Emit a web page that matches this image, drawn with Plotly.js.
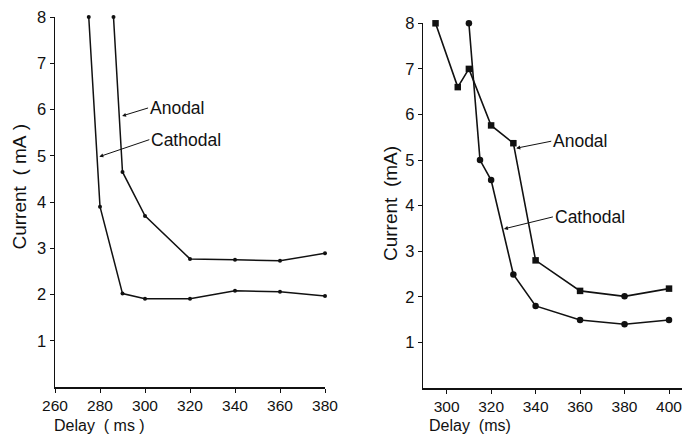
<!DOCTYPE html>
<html>
<head>
<meta charset="utf-8">
<script src="https://cdn.plot.ly/plotly-3.0.1.min.js"></script>
<style>html,body{margin:0;padding:0;background:#fff;}#chart{width:686px;height:435px;}</style>
</head>
<body>
<div id="chart"></div>
<script>
// ---- Left panel data ----
const leftAnodalX = [286, 290, 300, 320, 340, 360, 380];
const leftAnodalY = [8, 4.65, 3.7, 2.77, 2.75, 2.73, 2.89];
const leftCathodalX = [275, 280, 290, 300, 320, 340, 360, 380];
const leftCathodalY = [8, 3.9, 2.02, 1.91, 1.91, 2.08, 2.06, 1.97];

// ---- Right panel data ----
const rightAnodalX = [295, 305, 310, 320, 330, 340, 360, 380, 400];
const rightAnodalY = [8, 6.6, 7.0, 5.76, 5.37, 2.8, 2.13, 2.01, 2.18];
const rightCathodalX = [310, 315, 320, 330, 340, 360, 380, 400];
const rightCathodalY = [8, 5.0, 4.56, 2.49, 1.8, 1.49, 1.4, 1.49];

// ---- Tick labels ----
const leftXTicks = [260, 280, 300, 320, 340, 360, 380];
const rightXTicks = [300, 320, 340, 360, 380, 400];
const yTicks = [1, 2, 3, 4, 5, 6, 7, 8];

const ink = '#111';
const fontFam = '"Liberation Sans", Arial, sans-serif';
const W = 686, H = 435;

const traces = [
  {x: leftAnodalX, y: leftAnodalY, xaxis: 'x', yaxis: 'y', mode: 'lines+markers', name: 'Anodal',
   line: {color: ink, width: 1.5}, marker: {color: ink, size: 4}, cliponaxis: false},
  {x: leftCathodalX, y: leftCathodalY, xaxis: 'x', yaxis: 'y', mode: 'lines+markers', name: 'Cathodal',
   line: {color: ink, width: 1.5}, marker: {color: ink, size: 4}, cliponaxis: false},
  {x: rightAnodalX, y: rightAnodalY, xaxis: 'x2', yaxis: 'y2', mode: 'lines+markers', name: 'Anodal',
   line: {color: ink, width: 1.6},
   marker: {color: ink, size: 6.5, symbol: rightAnodalX.map(v => v === 380 ? 'circle' : 'square')}, cliponaxis: false},
  {x: rightCathodalX, y: rightCathodalY, xaxis: 'x2', yaxis: 'y2', mode: 'lines+markers', name: 'Cathodal',
   line: {color: ink, width: 1.6}, marker: {color: ink, size: 6.5, symbol: 'circle'}, cliponaxis: false}
];

const tickFont = {size: 15.5, color: ink, family: fontFam};

function xAxis(domain, range, ticks, anchor) {
  return {domain: domain, range: range, anchor: anchor, showline: true, linecolor: ink, linewidth: 1.5,
    ticks: 'outside', ticklen: 4, tickwidth: 1, tickcolor: ink, tickvals: ticks, showgrid: false,
    zeroline: false, tickfont: tickFont, fixedrange: true};
}
function yAxis(domain, anchor) {
  return {domain: domain, range: [0, 8], anchor: anchor, showline: true, linecolor: ink, linewidth: 1.5,
    ticks: 'outside', ticklen: 4, tickwidth: 1, tickcolor: ink, tickvals: yTicks, showgrid: false,
    zeroline: false, tickfont: {size: 16.5, color: ink, family: fontFam}, fixedrange: true};
}

const txtFont = {size: 17.5, color: ink, family: fontFam};
const titleFont = {size: 19, color: ink, family: fontFam};
const xTitleFont = {size: 16, color: ink, family: fontFam};
const nb = '\u00a0';

function arrowNote(text, x, y, xr, yr, ax, ay) {
  return {text: text, x: x, y: y, xref: xr, yref: yr, ax: ax, ay: ay, axref: 'pixel', ayref: 'pixel',
    showarrow: true, arrowhead: 2, arrowsize: 0.8, arrowwidth: 1, arrowcolor: ink,
    xanchor: 'left', yanchor: 'middle', font: txtFont, standoff: 0};
}

const layout = {
  width: W, height: H, margin: {l: 0, r: 0, t: 0, b: 0},
  paper_bgcolor: '#fff', plot_bgcolor: '#fff', showlegend: false,
  xaxis: xAxis([55 / W, 325 / W], [260, 380], leftXTicks, 'y'),
  yaxis: yAxis([(H - 387) / H, (H - 17) / H], 'x'),
  xaxis2: xAxis([423.3 / W, 681.7 / W], [289.5, 405.7], rightXTicks, 'y2'),
  yaxis2: yAxis([(H - 388) / H, (H - 23.3) / H], 'x2'),
  annotations: [
    arrowNote('Anodal', 289.8, 5.86, 'x', 'y', 26, -8),
    arrowNote('Cathodal', 279.7, 4.98, 'x', 'y', 50, -17),
    arrowNote('Anodal', 331.3, 5.26, 'x2', 'y2', 35, -7),
    arrowNote('Cathodal', 325.75, 3.49, 'x2', 'y2', 49, -12),
    {text: 'Current' + nb + nb + '(' + nb + 'mA' + nb + ')', xref: 'paper', yref: 'paper', x: 19 / W, y: 1 - 186.5 / H,
     textangle: -90, showarrow: false, font: titleFont, xanchor: 'center', yanchor: 'middle'},
    {text: 'Current' + nb + nb + '(mA)', xref: 'paper', yref: 'paper', x: 390.5 / W, y: 1 - 203.5 / H,
     textangle: -90, showarrow: false, font: titleFont, xanchor: 'center', yanchor: 'middle'},
    {text: 'Delay' + nb + nb + '(' + nb + 'ms' + nb + ')', xref: 'paper', yref: 'paper', x: 99 / W, y: 0,
     showarrow: false, font: xTitleFont, xanchor: 'center', yanchor: 'bottom', borderpad: 0},
    {text: 'Delay' + nb + nb + '(ms)', xref: 'paper', yref: 'paper', x: 470.5 / W, y: 0,
     showarrow: false, font: xTitleFont, xanchor: 'center', yanchor: 'bottom', borderpad: 0}
  ]
};

Plotly.newPlot('chart', traces, layout, {staticPlot: true, displayModeBar: false});
</script>
</body>
</html>
